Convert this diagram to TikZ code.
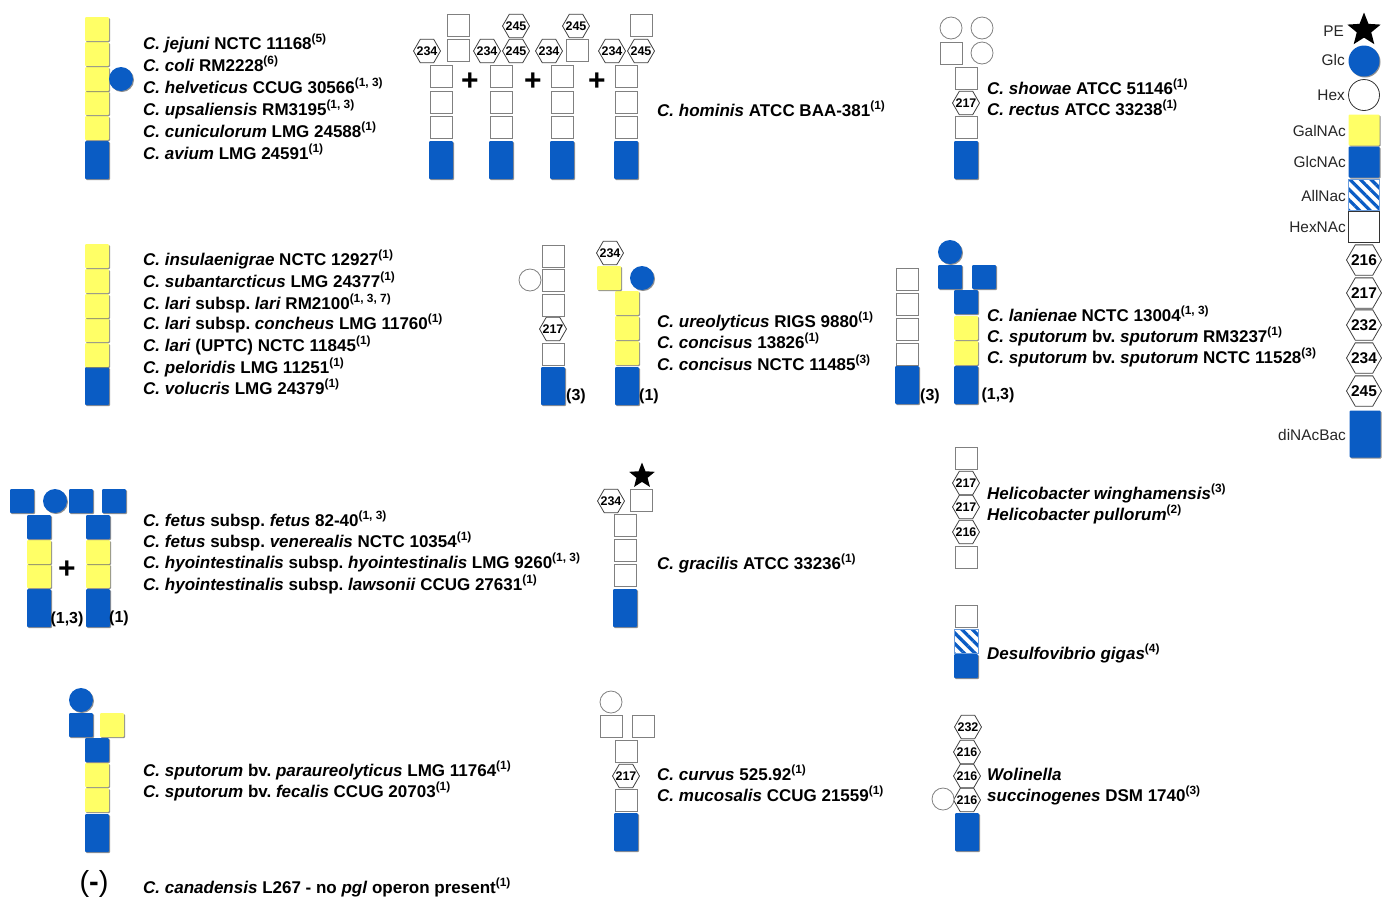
\documentclass[tikz,border=0pt]{standalone}
\usepackage{fontspec}
\setmainfont{Liberation Sans}
\frenchspacing
\usetikzlibrary{shapes.geometric, patterns.meta, shadows}
\definecolor{myyellow}{HTML}{FFFF66}
\definecolor{myblue}{HTML}{0A5CC4}
\newcommand{\rf}[1]{\textsuperscript{(#1)}}
\newcommand{\hx}[1]{\makebox[0pt]{#1}}
\tikzset{
	softedge/.style={drop shadow={shadow xshift=1pt, shadow yshift=-1pt, fill=black!55, opacity=0.8}}
}
\tikzset{
	galnac/.style={rectangle, rounded corners=1pt, fill=myyellow, softedge, minimum size=24, inner sep=0},
	glcnac/.style={rectangle, rounded corners=1pt, fill=myblue, softedge, minimum size=24, inner sep=0},
	dinac/.style={rectangle, rounded corners=1pt, fill=myblue, softedge, minimum width=24, minimum height=38, inner sep=0},
	hexnac/.style={rectangle, draw=black!50, fill=white, line width=1pt, minimum size=22, inner sep=0},
	allnac/.style={rectangle, draw=myblue!60, pattern={Lines[angle=-45,distance=7.5pt,line width=3.2pt]}, pattern color=myblue, minimum size=24, inner sep=0},
	glc/.style={circle, fill=myblue, softedge, minimum size=24, inner sep=0},
	hexose/.style={circle, draw=black!50, fill=white, line width=0.8pt, minimum size=22, inner sep=0},
	hexmod/.style={regular polygon, regular polygon sides=6, draw=black!75, fill=white, line width=0.8pt, minimum size=27, inner sep=0, font=\fontsize{12.5}{13}\selectfont\bfseries},
	pestar/.style={star, star points=5, star point ratio=2.3, fill=black, minimum size=27, inner sep=0},
	legendmark/.style={minimum size=31},
	legendhex/.style={minimum size=35, font=\fontsize{15.5}{16}\selectfont\bfseries},
	strain/.style={anchor=west, inner sep=0, text height=15, text depth=3, font=\fontsize{17}{18}\selectfont\bfseries},
	legendtext/.style={anchor=east, inner sep=0, font=\fontsize{15.4}{16}\selectfont, text=black!85},
	sourcetag/.style={inner sep=0, yshift=-1pt, font=\fontsize{16}{16}\selectfont\bfseries},
	plussign/.style={inner sep=0, font=\fontsize{30}{30}\selectfont\bfseries}
}

\begin{document}
\begin{tikzpicture}[x=1pt, y=-1pt]

	\useasboundingbox (0,0) rectangle (1386,898);

	% first row
	\begin{scope}
		\node[dinac] (a0) at (97,160) {};
		\node[galnac] (a1) at (97,128) {};
		\node[galnac] (a2) at (97,103) {};
		\node[galnac] (a3) at (97,79) {};
		\node[galnac] (a4) at (97,54) {};
		\node[galnac] (a5) at (97,29) {};
		\node[glc] (a6) at (121,79) {};
	\end{scope}

	\node[strain] (ta1) at (143,43) {\textit{C. jejuni} NCTC 11168\rf{5}};
	\node[strain] (ta2) at (143,65) {\textit{C. coli} RM2228\rf{6}};
	\node[strain] (ta3) at (143,87) {\textit{C. helveticus} CCUG 30566\rf{1, 3}};
	\node[strain] (ta4) at (143,109) {\textit{C. upsaliensis} RM3195\rf{1, 3}};
	\node[strain] (ta5) at (143,131) {\textit{C. cuniculorum} LMG 24588\rf{1}};
	\node[strain] (ta6) at (143,153) {\textit{C. avium} LMG 24591\rf{1}};

	\begin{scope}
		\node[dinac] (b0) at (441,160) {};
		\node[hexnac] (b1) at (441,127) {};
		\node[hexnac] (b2) at (441,102) {};
		\node[hexnac] (b3) at (441,76) {};
		\node[hexnac] (b4) at (458,50) {};
		\node[hexnac] (b5) at (458,25) {};
		\node[hexmod] (b6) at (427,51) {\hx{234}};
		\node[plussign] (p1) at (470,82) {+};

		\node[dinac] (c0) at (501,160) {};
		\node[hexnac] (c1) at (501,127) {};
		\node[hexnac] (c2) at (501,102) {};
		\node[hexnac] (c3) at (501,76) {};
		\node[hexmod] (c4) at (487,51) {\hx{234}};
		\node[hexmod] (c5) at (516,51) {\hx{245}};
		\node[hexmod] (c6) at (516,26) {\hx{245}};
		\node[plussign] (p2) at (533,82) {+};

		\node[dinac] (d0) at (562,160) {};
		\node[hexnac] (d1) at (562,127) {};
		\node[hexnac] (d2) at (562,102) {};
		\node[hexnac] (d3) at (562,76) {};
		\node[hexnac] (d4) at (577,50) {};
		\node[hexmod] (d5) at (549,51) {\hx{234}};
		\node[hexmod] (d6) at (576,26) {\hx{245}};
		\node[plussign] (p3) at (597,82) {+};

		\node[dinac] (e0) at (626,160) {};
		\node[hexnac] (e1) at (626,127) {};
		\node[hexnac] (e2) at (626,102) {};
		\node[hexnac] (e3) at (626,76) {};
		\node[hexmod] (e4) at (612,51) {\hx{234}};
		\node[hexmod] (e5) at (641,51) {\hx{245}};
		\node[hexnac] (e6) at (641,25) {};
	\end{scope}

	\node[strain] (tb1) at (657,110) {\textit{C. hominis} ATCC BAA-381\rf{1}};

	\begin{scope}
		\node[dinac] (f0) at (966,160) {};
		\node[hexnac] (f1) at (966,127) {};
		\node[hexmod] (f2) at (966,103) {\hx{217}};
		\node[hexnac] (f3) at (966,78) {};
		\node[hexnac] (f4) at (951,53) {};
		\node[hexose] (f5) at (951,28) {};
		\node[hexose] (f6) at (982,28) {};
		\node[hexose] (f7) at (982,53) {};
	\end{scope}

	\node[strain] (tf1) at (987,88) {\textit{C. showae} ATCC 51146\rf{1}};
	\node[strain] (tf2) at (987,109) {\textit{C. rectus} ATCC 33238\rf{1}};

	% legend
	\begin{scope}
		\node[pestar, minimum size=35] (l1) at (1364,30) {};
		\node[glc, legendmark] (l2) at (1364,61) {};
		\node[hexose, legendmark, draw=black!80] (l3) at (1364,95) {};
		\node[galnac, legendmark] (l4) at (1364,130) {};
		\node[glcnac, legendmark] (l5) at (1364,162) {};
		\node[allnac, legendmark] (l6) at (1364,195) {};
		\node[hexnac, legendmark, draw=black!80] (l7) at (1364,227) {};
		\node[hexmod, legendhex] (l8) at (1364,260) {\hx{216}};
		\node[hexmod, legendhex] (l9) at (1364,293) {\hx{217}};
		\node[hexmod, legendhex] (l10) at (1364,325) {\hx{232}};
		\node[hexmod, legendhex] (l11) at (1364,358) {\hx{234}};
		\node[hexmod, legendhex] (l12) at (1364,391) {\hx{245}};
		\node[dinac, minimum width=31, minimum height=47] (l13) at (1365,434) {};

		\node[legendtext] (n1) at (1344,31) {PE};
		\node[legendtext] (n2) at (1345,60) {Glc};
		\node[legendtext] (n3) at (1345,95) {Hex};
		\node[legendtext] (n4) at (1346,131) {GalNAc};
		\node[legendtext] (n5) at (1346,162) {GlcNAc};
		\node[legendtext] (n6) at (1346,196) {AllNac};
		\node[legendtext] (n7) at (1346,227) {HexNAc};
		\node[legendtext] (n8) at (1346,435) {diNAcBac};
	\end{scope}

	% second row
	\begin{scope}
		\node[dinac] (g0) at (97,386) {};
		\node[galnac] (g1) at (97,355) {};
		\node[galnac] (g2) at (97,330) {};
		\node[galnac] (g3) at (97,306) {};
		\node[galnac] (g4) at (97,281) {};
		\node[galnac] (g5) at (97,256) {};
	\end{scope}

	\node[strain] (tg1) at (143,259) {\textit{C. insulaenigrae} NCTC 12927\rf{1}};
	\node[strain] (tg2) at (143,281) {\textit{C. subantarcticus} LMG 24377\rf{1}};
	\node[strain] (tg3) at (143,303) {\textit{C. lari} subsp. \textit{lari} RM2100\rf{1, 3, 7}};
	\node[strain] (tg4) at (143,323) {\textit{C. lari} subsp. \textit{concheus} LMG 11760\rf{1}};
	\node[strain] (tg5) at (143,345) {\textit{C. lari} (UPTC) NCTC 11845\rf{1}};
	\node[strain] (tg6) at (143,367) {\textit{C. peloridis} LMG 11251\rf{1}};
	\node[strain] (tg7) at (143,388) {\textit{C. volucris} LMG 24379\rf{1}};

	\begin{scope}
		\node[dinac] (h0) at (553,386) {};
		\node[hexnac] (h1) at (553,354) {};
		\node[hexmod] (h2) at (553,329) {\hx{217}};
		\node[hexnac] (h3) at (553,305) {};
		\node[hexnac] (h4) at (553,280) {};
		\node[hexnac] (h5) at (553,256) {};
		\node[hexose] (h6) at (530,280) {};
		\node[sourcetag] (h7) at (576,395) {(3)};

		\node[dinac] (i0) at (627,386) {};
		\node[galnac] (i1) at (627,353) {};
		\node[galnac] (i2) at (627,328) {};
		\node[galnac] (i3) at (627,303) {};
		\node[galnac] (i4) at (609,278) {};
		\node[glc] (i5) at (642,278) {};
		\node[hexmod] (i6) at (610,253) {\hx{234}};
		\node[sourcetag] (i7) at (649,395) {(1)};
	\end{scope}

	\node[strain] (ti1) at (657,321) {\textit{C. ureolyticus} RIGS 9880\rf{1}};
	\node[strain] (ti2) at (657,342) {\textit{C. concisus} 13826\rf{1}};
	\node[strain] (ti3) at (657,364) {\textit{C. concisus} NCTC 11485\rf{3}};

	\begin{scope}
		\node[dinac] (j0) at (907,385) {};
		\node[hexnac] (j1) at (907,354) {};
		\node[hexnac] (j2) at (907,329) {};
		\node[hexnac] (j3) at (907,304) {};
		\node[hexnac] (j4) at (907,279) {};
		\node[sourcetag] (j5) at (930,395) {(3)};

		\node[dinac] (k0) at (966,385) {};
		\node[galnac] (k1) at (966,353) {};
		\node[galnac] (k2) at (966,328) {};
		\node[glcnac] (k3) at (966,302) {};
		\node[glcnac] (k4) at (950,277) {};
		\node[glcnac] (k5) at (984,277) {};
		\node[glc] (k6) at (950,252) {};
		\node[sourcetag] (k7) at (998,394) {(1,3)};
	\end{scope}

	\node[strain] (tk1) at (987,315) {\textit{C. lanienae} NCTC 13004\rf{1, 3}};
	\node[strain] (tk2) at (987,336) {\textit{C. sputorum} bv. \textit{sputorum} RM3237\rf{1}};
	\node[strain] (tk3) at (987,357) {\textit{C. sputorum} bv. \textit{sputorum} NCTC 11528\rf{3}};

	% third row
	\begin{scope}
		\node[dinac] (m0) at (39,608) {};
		\node[galnac] (m1) at (39,576) {};
		\node[galnac] (m2) at (39,552) {};
		\node[glcnac] (m3) at (39,527) {};
		\node[glcnac] (m4) at (22,501) {};
		\node[glc] (m5) at (55,501) {};
		\node[sourcetag] (m6) at (67,618) {(1,3)};
		\node[plussign] (p4) at (67,570) {+};

		\node[dinac] (o0) at (98,608) {};
		\node[galnac] (o1) at (98,576) {};
		\node[galnac] (o2) at (98,552) {};
		\node[glcnac] (o3) at (98,527) {};
		\node[glcnac] (o4) at (81,501) {};
		\node[glcnac] (o5) at (114,501) {};
		\node[sourcetag] (o6) at (119,617) {(1)};
	\end{scope}

	\node[strain] (to1) at (143,520) {\textit{C. fetus} subsp. \textit{fetus} 82-40\rf{1, 3}};
	\node[strain] (to2) at (143,541) {\textit{C. fetus} subsp. \textit{venerealis} NCTC 10354\rf{1}};
	\node[strain] (to3) at (143,562) {\textit{C. hyointestinalis} subsp. \textit{hyointestinalis} LMG 9260\rf{1, 3}};
	\node[strain] (to4) at (143,584) {\textit{C. hyointestinalis} subsp. \textit{lawsonii} CCUG 27631\rf{1}};

	\begin{scope}
		\node[dinac] (q0) at (625,608) {};
		\node[hexnac] (q1) at (625,575) {};
		\node[hexnac] (q2) at (625,550) {};
		\node[hexnac] (q3) at (625,525) {};
		\node[hexnac] (q4) at (641,500) {};
		\node[hexmod] (q5) at (611,501) {\hx{234}};
		\node[pestar] (q6) at (642,476) {};
	\end{scope}

	\node[strain] (tq1) at (657,563) {\textit{C. gracilis} ATCC 33236\rf{1}};

	\begin{scope}
		\node[hexnac] (r0) at (966,557) {};
		\node[hexmod] (r1) at (966,532) {\hx{216}};
		\node[hexmod] (r2) at (966,507) {\hx{217}};
		\node[hexmod] (r3) at (966,483) {\hx{217}};
		\node[hexnac] (r4) at (966,458) {};
	\end{scope}

	\node[strain] (tr1) at (987,493) {\textit{Helicobacter winghamensis}\rf{3}};
	\node[strain] (tr2) at (987,514) {\textit{Helicobacter pullorum}\rf{2}};

	\begin{scope}
		\node[dinac, minimum height=24] (s0) at (966,666) {};
		\node[allnac] (s1) at (966,641) {};
		\node[hexnac] (s2) at (966,616) {};
	\end{scope}

	\node[strain] (ts1) at (987,653) {\textit{Desulfovibrio gigas}\rf{4}};

	% last row
	\begin{scope}
		\node[dinac] (u0) at (97,833) {};
		\node[galnac] (u1) at (97,800) {};
		\node[galnac] (u2) at (97,775) {};
		\node[glcnac] (u3) at (97,750) {};
		\node[glcnac] (u4) at (81,725) {};
		\node[galnac] (u5) at (112,725) {};
		\node[glc] (u6) at (81,700) {};
	\end{scope}

	\node[strain] (tu1) at (143,770) {\textit{C. sputorum} bv. \textit{paraureolyticus} LMG 11764\rf{1}};
	\node[strain] (tu2) at (143,791) {\textit{C. sputorum} bv. \textit{fecalis} CCUG 20703\rf{1}};

	\begin{scope}
		\node[dinac] (v0) at (626,832) {};
		\node[hexnac] (v1) at (626,800) {};
		\node[hexmod] (v2) at (626,776) {\hx{217}};
		\node[hexnac] (v3) at (626,751) {};
		\node[hexnac] (v4) at (611,726) {};
		\node[hexnac] (v5) at (643,726) {};
		\node[hexose] (v6) at (611,702) {};
	\end{scope}

	\node[strain] (tv1) at (657,774) {\textit{C. curvus} 525.92\rf{1}};
	\node[strain] (tv2) at (657,795) {\textit{C. mucosalis} CCUG 21559\rf{1}};

	\begin{scope}
		\node[dinac] (w0) at (967,832) {};
		\node[hexmod] (w1) at (967,800) {\hx{216}};
		\node[hexmod] (w2) at (967,776) {\hx{216}};
		\node[hexmod] (w3) at (967,752) {\hx{216}};
		\node[hexmod] (w4) at (968,727) {\hx{232}};
		\node[hexose] (w5) at (943,799) {};
	\end{scope}

	\node[strain] (tw1) at (987,774) {\textit{Wolinella}};
	\node[strain] (tw2) at (987,795) {\textit{succinogenes} DSM 1740\rf{3}};

	\node[inner sep=0, font=\fontsize{29}{30}\selectfont] (x0) at (94,884) {(\textbf{-})};
	\node[strain] (x1) at (143,887) {\textit{C. canadensis} L267 - no \textit{pgl} operon present\rf{1}};

\end{tikzpicture}
\end{document}
